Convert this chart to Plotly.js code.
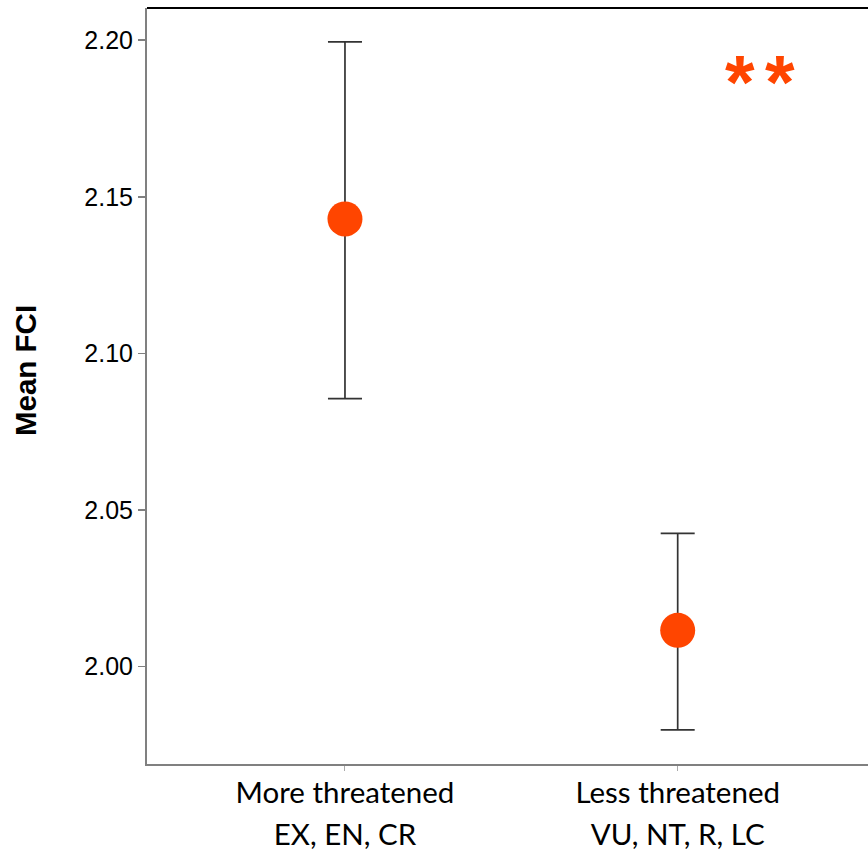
<!DOCTYPE html>
<html>
<head>
<meta charset="utf-8">
<script src="https://cdn.plot.ly/plotly-3.0.1.min.js"></script>
<style>html,body{margin:0;padding:0;background:#fff;}#chart{width:868px;height:853px;}</style>
</head>
<body>
<div id="chart"></div>
<script>
var categoryNames = ["More threatened", "Less threatened"];
var categoryCodes = ["EX, EN, CR", "VU, NT, R, LC"];
var meanFCI = [2.1429, 2.0115];
var ciUpper = [0.0566, 0.0310];
var ciLower = [0.0574, 0.0318];
var yTickVals = [2.00, 2.05, 2.10, 2.15, 2.20];
var yTickText = ["2.00", "2.05", "2.10", "2.15", "2.20"];
var yTitle = "Mean FCI";
var significanceMarks = ["*", "*"];

var tickText = categoryNames.map(function (n, i) {
  return "<span style='font-size:29.5px'>" + n + "</span><br><span style='font-size:29.5px'>" + categoryCodes[i] + "</span>";
});

var trace = {
  type: "scatter",
  mode: "markers",
  x: [0, 1],
  y: meanFCI,
  marker: {color: "#FF4500", size: 35, line: {width: 0}},
  error_y: {
    type: "data",
    symmetric: false,
    array: ciUpper,
    arrayminus: ciLower,
    color: "#333333",
    thickness: 1.7,
    width: 17
  },
  hoverinfo: "skip",
  showlegend: false
};

var starX = [1.187, 1.3075];
var annotations = significanceMarks.map(function (s, i) {
  return {x: starX[i], y: 2.1867, xref: "x", yref: "y", text: s, showarrow: false,
          font: {family: "Liberation Sans, Arial, sans-serif", size: 76, color: "#FF4500", weight: "bold"}};
});
annotations.push({
  x: 0, xref: "paper", xshift: -122, xanchor: "center",
  y: 0.5198, yref: "paper", yanchor: "middle",
  text: yTitle, textangle: -90, showarrow: false,
  font: {family: "Liberation Sans, Arial, sans-serif", size: 29.5, color: "#000", weight: "bold"}
});

var layout = {
  width: 868,
  height: 853,
  margin: {l: 147, r: 0, t: 8, b: 89},
  paper_bgcolor: "#ffffff",
  plot_bgcolor: "#ffffff",
  font: {family: "Liberation Sans, Arial, sans-serif", color: "#000"},
  xaxis: {
    range: [-0.595, 1.572],
    tickmode: "array",
    tickvals: [0, 1],
    ticktext: tickText,
    showgrid: false,
    zeroline: false,
    showline: true,
    linecolor: "#808080",
    linewidth: 2,
    ticks: "outside",
    ticklen: 5,
    tickwidth: 1,
    tickcolor: "#aaaaaa",
    ticklabelstandoff: -6,
    tickfont: {family: "Lato, sans-serif", size: 32, color: "#000"},
    fixedrange: true
  },
  yaxis: {
    range: [1.9688, 2.2103],
    tickmode: "array",
    tickvals: yTickVals,
    ticktext: yTickText,
    showgrid: false,
    zeroline: false,
    showline: true,
    linecolor: "#808080",
    linewidth: 2,
    ticks: "outside",
    ticklen: 7,
    tickwidth: 1.5,
    tickcolor: "#808080",
    tickfont: {family: "Liberation Sans, Arial, sans-serif", size: 25, color: "#000"},
    automargin: false,
    fixedrange: true
  },
  shapes: [
    {type: "line", xref: "paper", yref: "paper", x0: 0, x1: 1, y0: 1, y1: 1, line: {color: "#000", width: 2}}
  ],
  annotations: annotations
};

Plotly.newPlot("chart", [trace], layout, {displayModeBar: false, staticPlot: true});
</script>
</body>
</html>
